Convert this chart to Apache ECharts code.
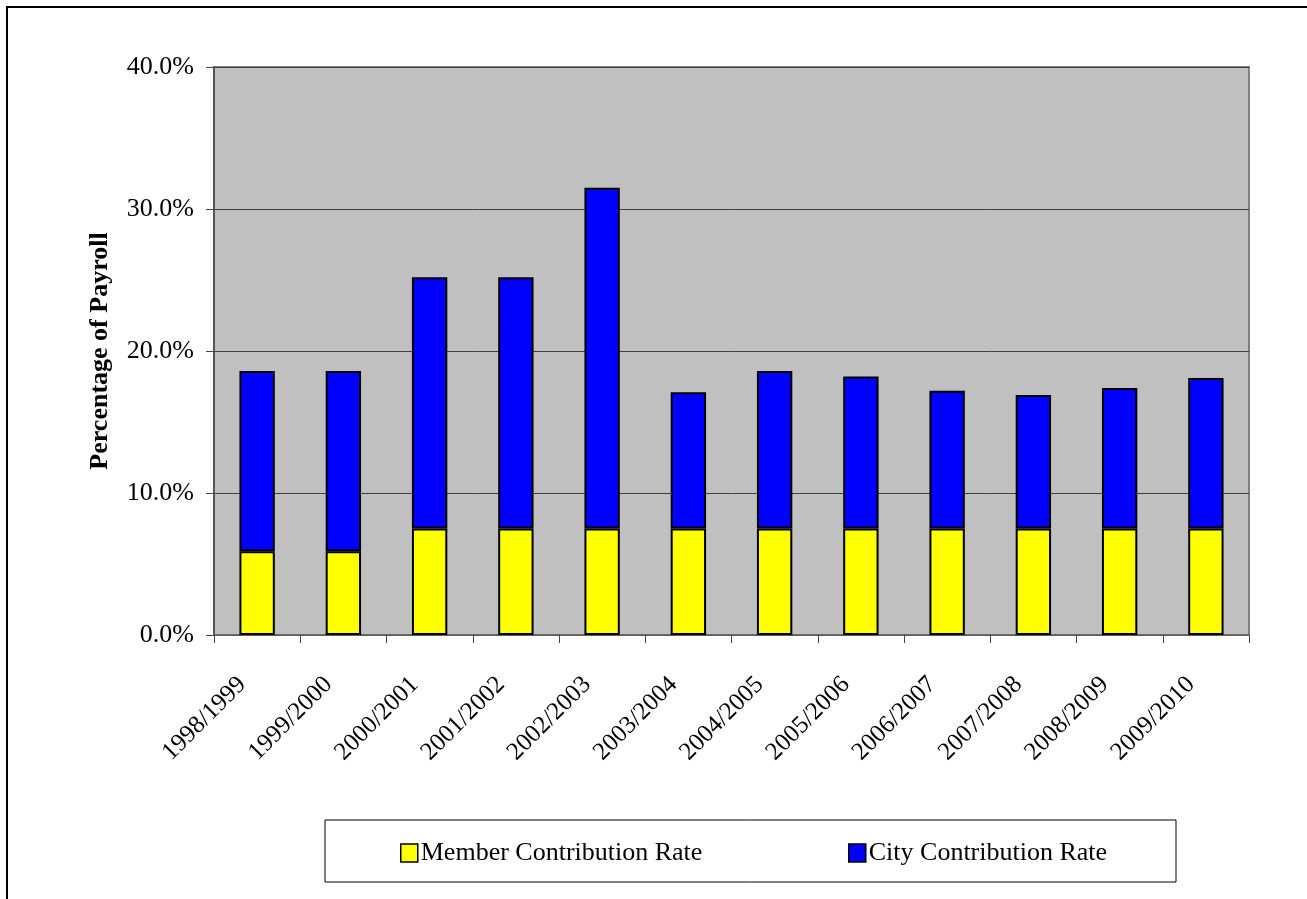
<!DOCTYPE html>
<html>
<head>
<meta charset="utf-8">
<title>Contribution Rates</title>
<script src="https://cdn.jsdelivr.net/npm/echarts@6/dist/echarts.min.js"></script>
<style>
  html, body { margin: 0; padding: 0; background: #ffffff; }
  #chart { width: 1307px; height: 899px; }
</style>
</head>
<body>
<div id="chart"></div>
<script>
// Fiscal years on the category axis
const years = ['1998/1999', '1999/2000', '2000/2001', '2001/2002', '2002/2003', '2003/2004',
               '2004/2005', '2005/2006', '2006/2007', '2007/2008', '2008/2009', '2009/2010'];

// Contribution rates, percent of payroll
const memberRate = [5.9, 5.9, 7.5, 7.5, 7.5, 7.5, 7.5, 7.5, 7.5, 7.5, 7.5, 7.5];
const cityRate   = [12.7, 12.7, 17.7, 17.7, 24.0, 9.6, 11.1, 10.7, 9.7, 9.4, 9.9, 10.6];

// Value axis ticks
const yTicks = [0, 10, 20, 30, 40];

const seriesNames = ['Member Contribution Rate', 'City Contribution Rate'];

const FONT = "'Liberation Serif', 'Times New Roman', serif";

const chart = echarts.init(document.getElementById('chart'), null, { renderer: 'canvas' });

function legendFor(name, left) {
  return {
    data: [name], left: left, top: 835,
    icon: 'rect', itemWidth: 17, itemHeight: 18,
    itemStyle: { borderColor: '#000000', borderWidth: 1.5 },
    textStyle: { fontFamily: FONT, fontSize: 26, color: '#000000', padding: [0, 0, 0, -2] }
  };
}

chart.setOption({
  animation: false,
  backgroundColor: '#ffffff',
  textStyle: { fontFamily: FONT },
  graphic: [
    // outer frame of the chart area
    { type: 'rect', silent: true, z: -10,
      shape: { x: 7, y: 7, width: 1320, height: 920 },
      style: { fill: 'none', stroke: '#000000', lineWidth: 2 } },
    // legend box
    { type: 'rect', silent: true, z: -5,
      shape: { x: 325, y: 820, width: 851, height: 62 },
      style: { fill: '#ffffff', stroke: '#000000', lineWidth: 1 } }
  ],
  grid: {
    left: 214, top: 67, right: 58, bottom: 264,
    show: true, backgroundColor: '#C0C0C0',
    borderColor: '#808080', borderWidth: 2
  },
  legend: [
    legendFor(seriesNames[0], 395),
    legendFor(seriesNames[1], 843)
  ],
  xAxis: {
    type: 'category',
    data: years,
    boundaryGap: true,
    axisLine: { lineStyle: { color: '#666666', width: 1.5 } },
    axisTick: { show: true, inside: false, length: 8, alignWithLabel: false,
                lineStyle: { color: '#444444', width: 1 } },
    axisLabel: {
      rotate: 45, interval: 0, margin: 31,
      fontFamily: FONT, fontSize: 25, color: '#000000',
      padding: [0, 21, 0, 0]
    },
    splitLine: { show: false }
  },
  yAxis: {
    type: 'value',
    min: yTicks[0], max: yTicks[yTicks.length - 1], interval: 10,
    name: 'Percentage of Payroll',
    nameLocation: 'middle', nameGap: 101, nameRotate: 90,
    nameTextStyle: { fontFamily: FONT, fontSize: 26, fontWeight: 'bold', color: '#000000' },
    axisLine: { show: true, lineStyle: { color: '#555555', width: 2 } },
    axisTick: { show: true, inside: false, length: 8, lineStyle: { color: '#444444', width: 1 } },
    axisLabel: {
      margin: 20, fontFamily: FONT, fontSize: 26, color: '#000000',
      formatter: v => v.toFixed(1) + '%'
    },
    splitLine: { show: true, lineStyle: { color: '#404040', width: 1 } }
  },
  series: [
    { name: seriesNames[0], type: 'bar', stack: 'rate', data: memberRate,
      barWidth: '41%',
      itemStyle: { color: '#FFFF00', borderColor: '#000000', borderWidth: 2 } },
    { name: seriesNames[1], type: 'bar', stack: 'rate', data: cityRate,
      barWidth: '41%',
      itemStyle: { color: '#0000FF', borderColor: '#000000', borderWidth: 2 } }
  ]
});
</script>
</body>
</html>
